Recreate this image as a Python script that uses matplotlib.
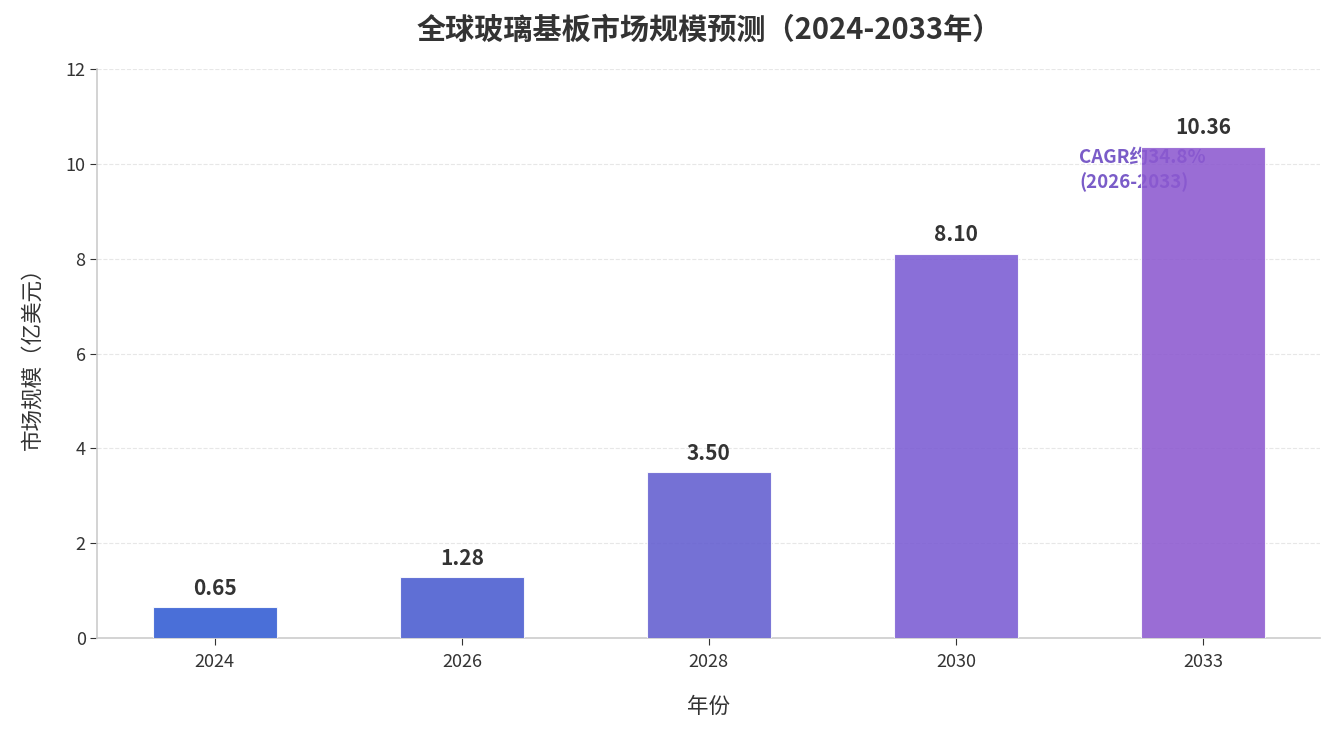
import numpy as np
import matplotlib
matplotlib.use('Agg')
from matplotlib import pyplot as plt

plt.rcParams['font.family'] = ['Noto Sans CJK SC', 'DejaVu Sans']

years = ['2024', '2026', '2028', '2030', '2033']
values = [0.65, 1.28, 3.50, 8.10, 10.36]
colors = ['#315bd3', '#495bd0', '#625dd0', '#7a5bd3', '#8c59d0']
cagr_text = 'CAGR约34.8%\n(2026-2033)'

fig, ax = plt.subplots(figsize=(13.35, 7.35), dpi=100)
x = np.arange(len(years))
bars = ax.bar(x, values, width=0.5, color=colors, alpha=0.88, edgecolor='white', linewidth=0.8, zorder=3)

for xi, v in zip(x, values):
    ax.text(xi, v + 0.18, f'{v:.2f}', ha='center', va='bottom', fontsize=15,
            fontweight='bold', color='#333333', zorder=4)

ax.text(3.5, 9.87, cagr_text, ha='left', va='center', fontsize=13.5, fontweight='bold',
        color='#7a5cc8', linespacing=1.3, zorder=2)

ax.set_xticks(x)
ax.set_xticklabels(years)
ax.set_ylim(0, 12)
ax.set_yticks(range(0, 13, 2))
ax.tick_params(axis='both', labelsize=13, colors='#333333', length=5)
ax.tick_params(axis='x', pad=6)
for s in ['top', 'right']:
    ax.spines[s].set_visible(False)
for s in ['left', 'bottom']:
    ax.spines[s].set_color('#cccccc')
    ax.spines[s].set_linewidth(1.2)
ax.grid(axis='y', linestyle='--', color='#dddddd', alpha=0.7, zorder=0)
ax.set_axisbelow(True)

ax.set_xlabel('年份', fontsize=15.5, color='#333333', labelpad=18)
ax.set_ylabel('市场规模（亿美元）', fontsize=15.5, color='#333333', labelpad=16)
ax.set_title('全球玻璃基板市场规模预测（2024-2033年）', fontsize=21, fontweight='bold',
             color='#333333', pad=22)

fig.subplots_adjust(left=0.073, right=0.989, top=0.906, bottom=0.132)
fig.savefig('out.png', dpi=100)
